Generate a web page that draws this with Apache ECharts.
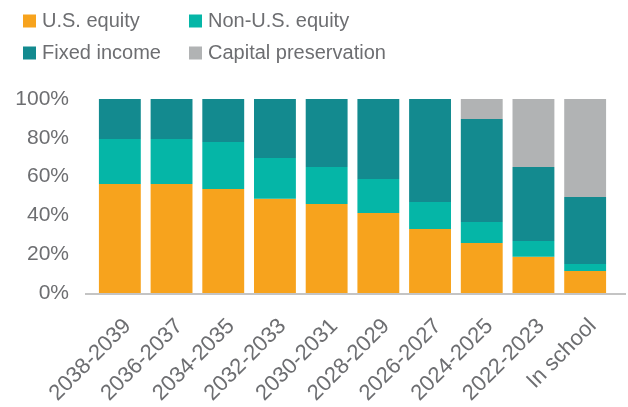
<!DOCTYPE html>
<html>
<head>
<meta charset="utf-8">
<script src="https://cdn.jsdelivr.net/npm/echarts@6/dist/echarts.min.js"></script>
<style>
html,body{margin:0;padding:0;background:#fff;}
#c{width:628px;height:407px;}
</style>
</head>
<body>
<div id="c"></div>
<script>
var categories = ['2038-2039','2036-2037','2034-2035','2032-2033','2030-2031','2028-2029','2026-2027','2024-2025','2022-2023','In school'];
var usEquity = [56.2, 56.2, 53.6, 48.5, 45.9, 41.2, 33.0, 25.8, 18.6, 11.3];
var nonUsEquity = [23.2, 23.2, 24.2, 21.1, 19.0, 17.6, 13.9, 10.8, 8.2, 3.6];
var fixedIncome = [20.6, 20.6, 22.2, 30.4, 35.1, 41.2, 53.1, 53.1, 38.1, 34.6];
var capitalPreservation = [0, 0, 0, 0, 0, 0, 0, 10.3, 35.1, 50.5];
var seriesNames = ['U.S. equity','Non-U.S. equity','Fixed income','Capital preservation'];

var FONT = '"Liberation Sans", Arial, sans-serif';
var TXT = '#6d6e71';
var colors = ['#f7a31d','#05b6a7','#138a8f','#b1b3b4'];

var chart = echarts.init(document.getElementById('c'), null, {renderer:'canvas'});
function mk(name, data, color){
  return {name:name, type:'bar', stack:'total', data:data, barCategoryGap:'19%',
    itemStyle:{color:color}, emphasis:{disabled:true}};
}
var legendCommon = {orient:'vertical', icon:'rect', itemWidth:13, itemHeight:13, itemGap:12, padding:0,
  textStyle:{fontFamily:FONT, fontSize:20, color:TXT, lineHeight:20, padding:[0,0,0,1]}, top:11, selectedMode:false};
chart.setOption({
  animation:false,
  color:colors,
  legend:[
    Object.assign({}, legendCommon, {left:23, data:[seriesNames[0], seriesNames[2]]}),
    Object.assign({}, legendCommon, {left:189, data:[seriesNames[1], seriesNames[3]]})
  ],
  grid:{left:94, right:17, top:99, bottom:114, containLabel:false},
  xAxis:{type:'category', data:categories,
    axisLine:{show:false}, axisTick:{show:false},
    axisLabel:{rotate:45, margin:22, interval:0, verticalAlign:'top', fontFamily:FONT, fontSize:22, color:TXT}},
  yAxis:{type:'value', min:0, max:100, interval:20,
    axisLine:{show:false}, axisTick:{show:false}, splitLine:{show:false},
    axisLabel:{formatter:'{value}%', margin:25, fontFamily:FONT, fontSize:21, color:TXT}},
  series:[
    mk(seriesNames[0], usEquity, colors[0]),
    mk(seriesNames[1], nonUsEquity, colors[1]),
    mk(seriesNames[2], fixedIncome, colors[2]),
    mk(seriesNames[3], capitalPreservation, colors[3])
  ]
});
var y0 = chart.convertToPixel({yAxisIndex:0}, 0);
chart.setOption({graphic:[{type:'line', shape:{x1:85, y1:y0+1, x2:626, y2:y0+1},
  style:{stroke:'#c4c4c4', lineWidth:2}, z:10}]});
</script>
</body>
</html>
